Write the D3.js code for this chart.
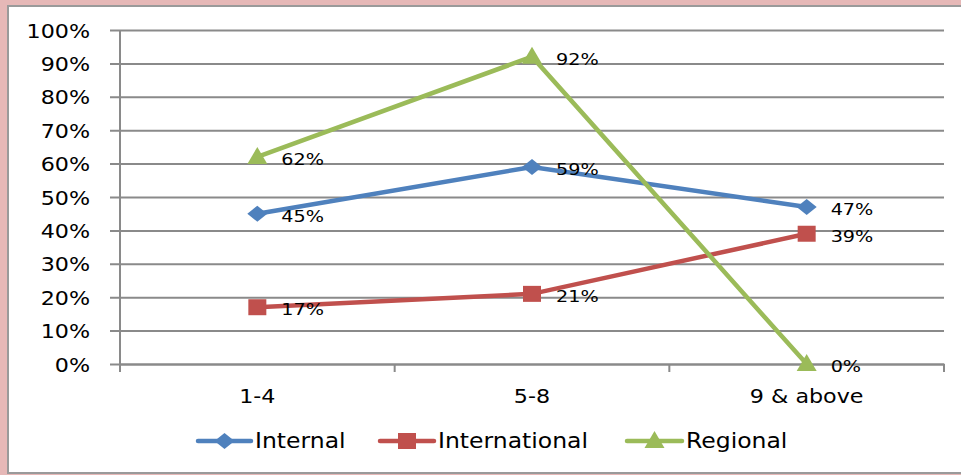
<!DOCTYPE html>
<html>
<head>
<meta charset="utf-8">
<script src="https://cdn.jsdelivr.net/npm/d3@7"></script>
<style>
body { margin: 0; background: #e6b8b7; }
svg { display: block; font-family: "DejaVu Sans", Verdana, sans-serif; }
</style>
</head>
<body>
<svg width="961" height="475"></svg>
<script>
const width = 961;
const height = 475;

const categories = ['1-4', '5-8', '9 & above'];
const internal = [45, 59, 47];
const international = [17, 21, 39];
const regional = [62, 92, 0];
const yTicks = [0, 10, 20, 30, 40, 50, 60, 70, 80, 90, 100];

const series = [
    { name: 'Internal', values: internal, color: '#4f81bd', shape: 'diamond' },
    { name: 'International', values: international, color: '#c0504d', shape: 'square' },
    { name: 'Regional', values: regional, color: '#9bbb59', shape: 'triangle' }
];

const svg = d3.select('svg');

// white chart area with grey frame (right side runs off the picture)
svg.append('rect')
    .attr('x', 8).attr('y', 6)
    .attr('width', 960).attr('height', 467)
    .attr('fill', '#fff')
    .attr('stroke', '#9a9a9a')
    .attr('stroke-width', 2);

const margin = { top: 30, left: 120, right: 17, bottom: 111 };
const innerWidth = width - margin.left - margin.right;
const innerHeight = height - margin.top - margin.bottom;

const xScale = d3.scaleBand()
    .domain(categories)
    .range([0, innerWidth]);

const yScale = d3.scaleLinear()
    .domain([0, 100])
    .range([innerHeight, 0]);

const g = svg.append('g')
    .attr('transform', 'translate(' + margin.left + ', ' + margin.top + ')');

// text in the source is a bit stretched sideways
const stretch = (sel, s) => sel.attr('transform', function() {
    const x = +d3.select(this).attr('x') || 0;
    const y = +d3.select(this).attr('y') || 0;
    d3.select(this).attr('x', 0).attr('y', 0);
    return 'translate(' + x + ', ' + y + ') scale(' + s + ', 1)';
});

// y axis with gridlines
const yAxisG = g.append('g')
    .call(d3.axisLeft(yScale)
        .tickValues(yTicks)
        .tickFormat(d => d + '%')
        .tickSize(-innerWidth));
yAxisG.select('.domain').remove();
yAxisG.selectAll('.tick line')
    .attr('x1', -10)
    .attr('stroke', '#8a8a8a')
    .attr('stroke-width', 2);
yAxisG.selectAll('.tick text')
    .attr('x', -30)
    .attr('y', 1)
    .attr('font-size', 19)
    .attr('fill', '#000')
    .attr('font-family', '"DejaVu Sans", sans-serif')
    .call(stretch, 1.17);

// y axis line
g.append('line')
    .attr('x1', 0).attr('x2', 0)
    .attr('y1', 0).attr('y2', innerHeight + 8)
    .attr('stroke', '#8a8a8a')
    .attr('stroke-width', 2);

// x axis
const xAxisG = g.append('g')
    .attr('transform', 'translate(0, ' + innerHeight + ')')
    .call(d3.axisBottom(xScale).tickSize(0));
xAxisG.select('.domain')
    .attr('stroke', '#8a8a8a')
    .attr('stroke-width', 2);
xAxisG.selectAll('.tick text')
    .attr('y', 32)
    .attr('dy', '0.35em')
    .attr('font-size', 19)
    .attr('fill', '#000')
    .attr('font-family', '"DejaVu Sans", sans-serif')
    .call(stretch, 1.17);

// category separators below axis
const bounds = categories.map(c => xScale(c)).concat([innerWidth]);
xAxisG.selectAll('.sep')
    .data(bounds)
    .enter()
    .append('line')
    .attr('x1', d => d).attr('x2', d => d)
    .attr('y1', 0).attr('y2', 8)
    .attr('stroke', '#8a8a8a')
    .attr('stroke-width', 2);

const xPos = (d, i) => xScale(categories[i]) + xScale.bandwidth() / 2;

const line = d3.line()
    .x(xPos)
    .y(d => yScale(d));

// marker shapes, a little wider than tall like in the source
const diamondType = { draw(ctx) {
    ctx.moveTo(-10, 0); ctx.lineTo(0, -8); ctx.lineTo(10, 0); ctx.lineTo(0, 8); ctx.closePath();
} };
const squareType = { draw(ctx) {
    ctx.moveTo(-9, -8); ctx.lineTo(9, -8); ctx.lineTo(9, 8); ctx.lineTo(-9, 8); ctx.closePath();
} };
const triangleType = { draw(ctx) {
    ctx.moveTo(0, -10); ctx.lineTo(10, 7); ctx.lineTo(-10, 7); ctx.closePath();
} };
const symbolFor = shape => {
    if (shape === 'diamond') return d3.symbol().type(diamondType);
    if (shape === 'square') return d3.symbol().type(squareType);
    return d3.symbol().type(triangleType);
};

series.forEach(s => {
    g.append('path')
        .datum(s.values)
        .attr('d', line)
        .attr('fill', 'none')
        .attr('stroke', s.color)
        .attr('stroke-width', 4.5);

    g.selectAll('.m-' + s.shape)
        .data(s.values)
        .enter()
        .append('path')
        .attr('d', symbolFor(s.shape))
        .attr('transform', (d, i) => 'translate(' + xPos(d, i) + ', ' + yScale(d) + ')')
        .attr('fill', s.color);

    g.selectAll('.l-' + s.shape)
        .data(s.values)
        .enter()
        .append('text')
        .attr('x', (d, i) => xPos(d, i) + 24)
        .attr('y', d => yScale(d) + 2.5)
        .attr('dy', '0.35em')
        .attr('font-size', 16)
        .attr('fill', '#000')
        .text(d => d + '%')
        .call(stretch, 1.2);
});

// legend
const legendItems = [
    { x: 198, textX: 255 },
    { x: 380, textX: 438 },
    { x: 627, textX: 686 }
];
const legend = svg.append('g').attr('transform', 'translate(0, 441)');
series.forEach((s, i) => {
    const it = legendItems[i];
    const lg = legend.append('g');
    lg.append('line')
        .attr('x1', it.x).attr('x2', it.textX - 4)
        .attr('y1', 0).attr('y2', 0)
        .attr('stroke', s.color)
        .attr('stroke-width', 4.5)
        .attr('stroke-linecap', 'round');
    lg.append('path')
        .attr('d', symbolFor(s.shape))
        .attr('transform', 'translate(' + ((it.x + it.textX - 4) / 2) + ', 0)')
        .attr('fill', s.color);
    lg.append('text')
        .attr('x', it.textX)
        .attr('y', 0)
        .attr('dy', '0.35em')
        .attr('font-size', 21)
        .attr('fill', '#000')
        .text(s.name)
        .call(stretch, 1.12);
});
</script>
</body>
</html>
